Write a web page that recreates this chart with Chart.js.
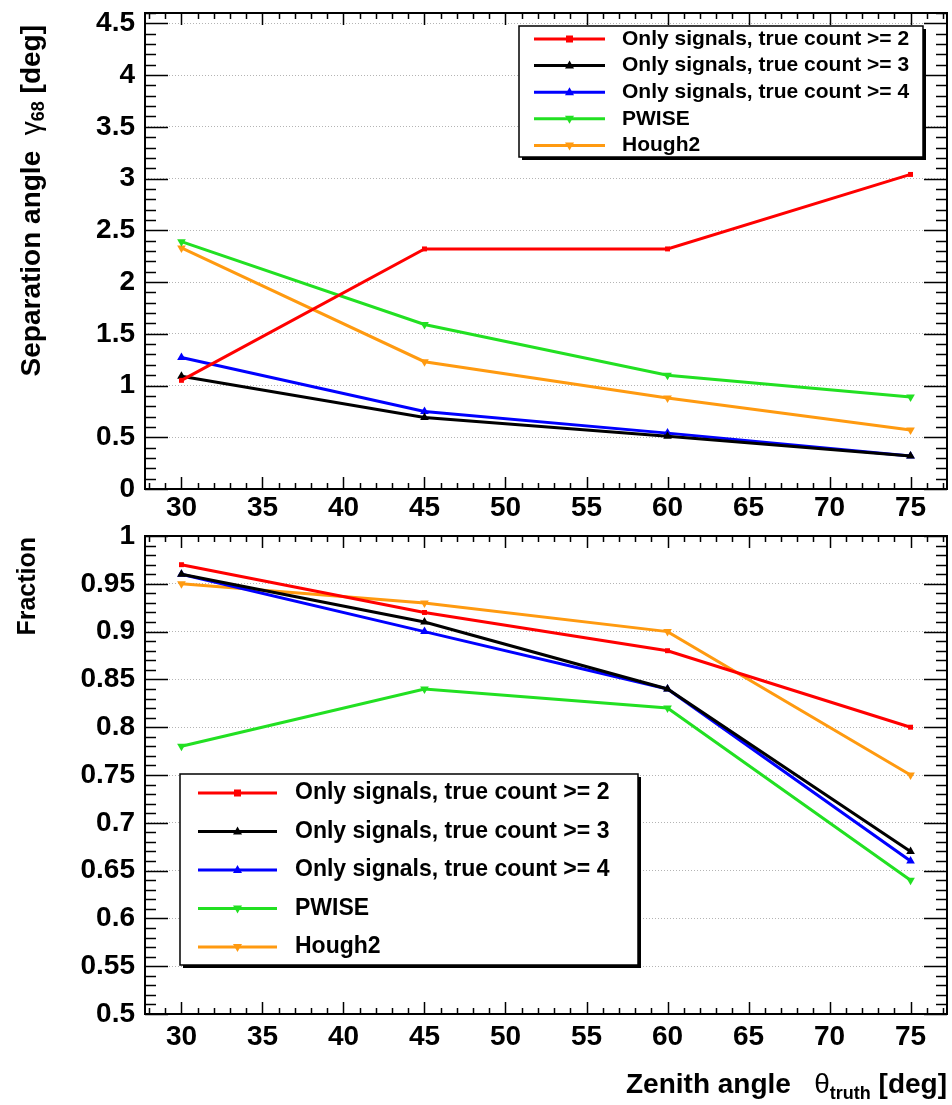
<!DOCTYPE html>
<html>
<head>
<meta charset="utf-8">
<script src="https://cdn.jsdelivr.net/npm/chart.js@4.4.0/dist/chart.umd.min.js"></script>
<style>
  body { margin: 0; background: #fff; }
  .pane { position: absolute; left: 0; width: 952px; }
</style>
</head>
<body>
<div class="pane" style="top:0;height:520px"><canvas id="sepChart" width="952" height="520"></canvas></div>
<div class="pane" style="top:520px;height:585px"><canvas id="fracChart" width="952" height="585"></canvas></div>
<script>
// data
const zenith = [30, 45, 60, 75];
const seriesLabels = ['Only signals, true count >= 2', 'Only signals, true count >= 3', 'Only signals, true count >= 4', 'PWISE', 'Hough2'];

const sepCount2 = [1.05, 2.32, 2.32, 3.04];
const sepCount3 = [1.09, 0.69, 0.51, 0.32];
const sepCount4 = [1.27, 0.75, 0.54, 0.32];
const sepPwise = [2.39, 1.59, 1.10, 0.89];
const sepHough2 = [2.33, 1.23, 0.88, 0.57];

const fracCount2 = [0.97, 0.92, 0.88, 0.80];
const fracCount3 = [0.96, 0.91, 0.84, 0.67];
const fracCount4 = [0.96, 0.90, 0.84, 0.66];
const fracPwise = [0.78, 0.84, 0.82, 0.64];
const fracHough2 = [0.95, 0.93, 0.90, 0.75];

const xTicks = [30, 35, 40, 45, 50, 55, 60, 65, 70, 75];
const sepTicks = [0, 0.5, 1, 1.5, 2, 2.5, 3, 3.5, 4, 4.5];
const fracTicks = [0.5, 0.55, 0.6, 0.65, 0.7, 0.75, 0.8, 0.85, 0.9, 0.95, 1];

// styles
const lineColors = ['#ff0000', '#000000', '#0000ff', '#22e022', '#ff9a10'];
const markerStyles = ['rect', 'triangle', 'triangle', 'triangle', 'triangle'];
const markerRotations = [0, 0, 0, 180, 180];
const FONT = "'Liberation Sans', Arial, Helvetica, sans-serif";

Chart.defaults.font.family = FONT;
Chart.defaults.font.weight = 'bold';
Chart.defaults.color = '#000';

function drawMarker(ctx, style, rot, x, y, r, color) {
    ctx.save();
    ctx.fillStyle = color;
    ctx.translate(x, y);
    ctx.rotate(rot * Math.PI / 180);
    ctx.beginPath();
    if (style === 'rect') {
        ctx.rect(-r, -r, 2 * r, 2 * r);
    } else {
        ctx.moveTo(0, -r);
        ctx.lineTo(r * 0.9, r * 0.6);
        ctx.lineTo(-r * 0.9, r * 0.6);
        ctx.closePath();
    }
    ctx.fill();
    ctx.restore();
}

function drawRich(ctx, pieces, x, y, alignRight) {
    let w = 0;
    pieces.forEach(p => { ctx.font = p.font; w += ctx.measureText(p.t).width; });
    let cx = alignRight ? x - w : x;
    ctx.textBaseline = 'middle';
    ctx.textAlign = 'left';
    pieces.forEach(p => {
        ctx.font = p.font;
        ctx.fillText(p.t, cx, y + (p.dy || 0));
        cx += ctx.measureText(p.t).width;
    });
}

// ROOT-like frame, inner ticks, legend box and axis titles
const rootStyle = {
    id: 'rootStyle',
    afterDatasetsDraw(chart, args, opts) {
        const ctx = chart.ctx, a = chart.chartArea;
        const xs = chart.scales.x, ys = chart.scales.y;
        ctx.save();
        ctx.strokeStyle = '#000';
        ctx.lineWidth = 1.5;
        ctx.beginPath();
        for (let v = Math.ceil(xs.min); v <= Math.floor(xs.max); v++) {
            const px = Math.round(xs.getPixelForValue(v)) + 0.5;
            const len = v % 5 === 0 ? 12 : 6;
            ctx.moveTo(px, a.bottom); ctx.lineTo(px, a.bottom - len);
            ctx.moveTo(px, a.top); ctx.lineTo(px, a.top + len);
        }
        const n0 = Math.ceil(ys.min / opts.minorStep - 1e-6);
        const n1 = Math.floor(ys.max / opts.minorStep + 1e-6);
        for (let i = n0; i <= n1; i++) {
            const v = i * opts.minorStep;
            const major = Math.abs(v / opts.majorStep - Math.round(v / opts.majorStep)) < 1e-6;
            const len = major ? 23 : 11;
            const py = Math.round(ys.getPixelForValue(v)) + 0.5;
            ctx.moveTo(a.left, py); ctx.lineTo(a.left + len, py);
            ctx.moveTo(a.right, py); ctx.lineTo(a.right - len, py);
        }
        ctx.stroke();
        ctx.lineWidth = 2;
        ctx.strokeRect(a.left, a.top, a.right - a.left, a.bottom - a.top);
        ctx.restore();
    },
    afterDraw(chart, args, opts) {
        const ctx = chart.ctx;
        const L = opts.legend;
        ctx.save();
        // shadow + box
        ctx.fillStyle = '#000';
        ctx.fillRect(L.x + 3, L.y + 3, L.w, L.h);
        ctx.fillStyle = '#fff';
        ctx.fillRect(L.x, L.y, L.w, L.h);
        ctx.strokeStyle = '#000';
        ctx.lineWidth = 1.5;
        ctx.strokeRect(L.x, L.y, L.w, L.h);
        chart.data.datasets.forEach((ds, i) => {
            const yy = L.row0 + i * L.dy;
            ctx.strokeStyle = ds.borderColor;
            ctx.lineWidth = 3;
            ctx.beginPath();
            ctx.moveTo(L.s0, yy); ctx.lineTo(L.s1, yy);
            ctx.stroke();
            drawMarker(ctx, markerStyles[i], markerRotations[i], (L.s0 + L.s1) / 2, yy, markerStyles[i] === 'rect' ? 3.5 : 5, ds.borderColor);
            ctx.fillStyle = '#000';
            ctx.font = 'bold ' + L.size + 'px ' + FONT;
            ctx.textAlign = 'left';
            ctx.textBaseline = 'middle';
            ctx.fillText(ds.label, L.tx, yy);
        });
        // axis titles
        ctx.fillStyle = '#000';
        const T = opts.yTitle;
        ctx.save();
        ctx.translate(T.x, T.y);
        ctx.rotate(-Math.PI / 2);
        drawRich(ctx, T.pieces, 0, 0, true);
        ctx.restore();
        if (opts.xTitle) {
            drawRich(ctx, opts.xTitle.pieces, opts.xTitle.x, opts.xTitle.y, true);
        }
        ctx.restore();
    }
};

function makeChart(id, values, yMin, yMax, yTicks, minorStep, majorStep, padTop, xAxisH, labelPad, pluginOpts) {
    const datasets = seriesLabels.map((label, i) => ({
        label: label,
        data: zenith.map((x, j) => ({ x: x, y: values[i][j] })),
        borderColor: lineColors[i],
        backgroundColor: lineColors[i],
        borderWidth: 3,
        pointStyle: markerStyles[i],
        pointRotation: markerRotations[i],
        pointRadius: markerStyles[i] === 'rect' ? 3.5 : 5,
        pointBorderWidth: 0,
        tension: 0
    }));
    pluginOpts.minorStep = minorStep;
    pluginOpts.majorStep = majorStep;
    return new Chart(document.getElementById(id), {
        type: 'line',
        data: { datasets: datasets },
        options: {
            responsive: false,
            animation: false,
            layout: { padding: { top: padTop, right: 5, left: 0, bottom: 0 } },
            plugins: {
                legend: { display: false },
                tooltip: { enabled: false },
                rootStyle: pluginOpts
            },
            scales: {
                x: {
                    type: 'linear',
                    min: 27.75,
                    max: 77.25,
                    afterBuildTicks: s => { s.ticks = xTicks.map(v => ({ value: v })); },
                    afterFit: s => { s.height = xAxisH; s.paddingLeft = 0; s.paddingRight = 0; },
                    ticks: { font: { size: 28, weight: 'bold' }, color: '#000', padding: labelPad, maxRotation: 0, autoSkip: false },
                    grid: { display: false, drawTicks: false },
                    border: { display: false }
                },
                y: {
                    type: 'linear',
                    min: yMin,
                    max: yMax,
                    afterBuildTicks: s => { s.ticks = yTicks.map(v => ({ value: v })); },
                    afterFit: s => { s.width = 145; s.paddingTop = 0; s.paddingBottom = 0; },
                    ticks: { font: { size: 28, weight: 'bold' }, color: '#000', padding: 10, autoSkip: false, callback: v => String(v) },
                    grid: { display: true, drawTicks: false, color: '#b4b4b4', lineWidth: 1 },
                    border: { display: false, dash: [1, 2] }
                }
            }
        },
        plugins: [rootStyle]
    });
}

const bigB = 'bold 28px ' + FONT;
const symN = '28px ' + FONT;
const subB = 'bold 18px ' + FONT;

makeChart('sepChart', [sepCount2, sepCount3, sepCount4, sepPwise, sepHough2], 0, 4.6, sepTicks, 0.1, 0.5, 13, 31, 2, {
    legend: { x: 519, y: 26, w: 404, h: 131, row0: 39, dy: 26.6, s0: 534, s1: 605, tx: 622, size: 21 },
    yTitle: { x: 32, y: 25, pieces: [
        { t: 'Separation angle  ', font: bigB },
        { t: 'γ', font: symN },
        { t: '68', font: subB, dy: 7 },
        { t: ' [deg]', font: bigB }
    ] }
});

makeChart('fracChart', [fracCount2, fracCount3, fracCount4, fracPwise, fracHough2], 0.5, 1.0, fracTicks, 0.01, 0.05, 16, 91, 6, {
    legend: { x: 180, y: 254, w: 458, h: 191, row0: 273, dy: 38.5, s0: 198, s1: 277, tx: 295, size: 23 },
    yTitle: { x: 28, y: 17, pieces: [{ t: 'Fraction', font: 'bold 25px ' + FONT }] },
    xTitle: { x: 947, y: 565, pieces: [
        { t: 'Zenith angle   ', font: bigB },
        { t: 'θ', font: symN },
        { t: 'truth', font: subB, dy: 9 },
        { t: ' [deg]', font: bigB }
    ] }
});
</script>
</body>
</html>
